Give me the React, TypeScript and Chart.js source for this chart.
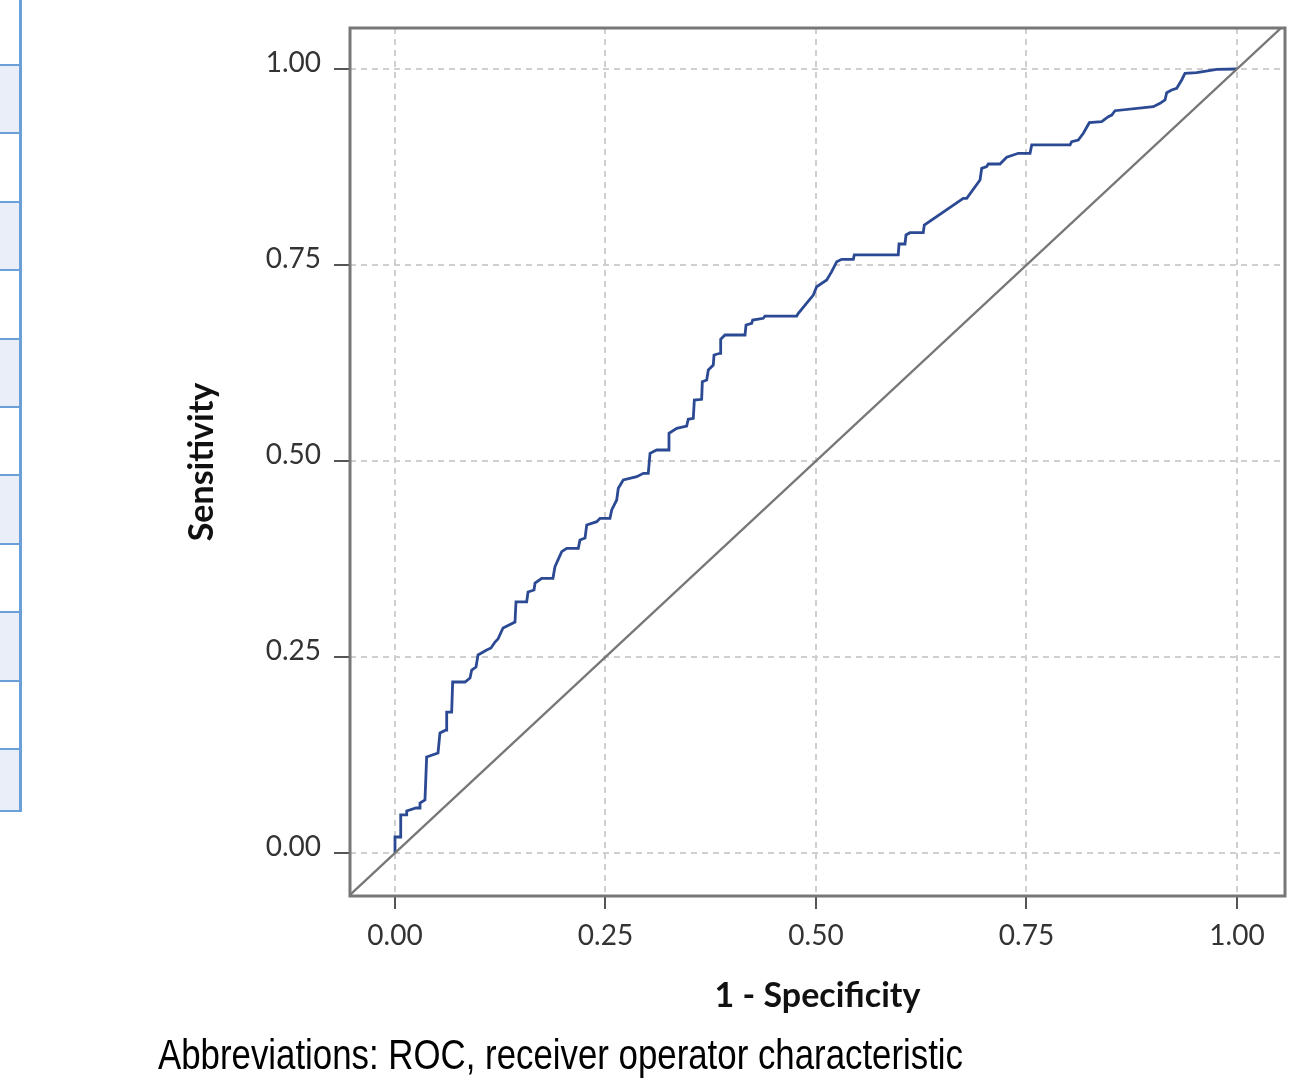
import React, { useEffect, useRef } from "react";
import { Chart, registerables } from "chart.js";

Chart.register(...registerables);

// ROC curve: 1 - specificity (x) and sensitivity (y)
const fprValues = [0, 0, 0.0068, 0.0068, 0.0139, 0.0139, 0.0249, 0.0297, 0.0297, 0.0356, 0.0376, 0.0511, 0.0534, 0.0606, 0.0614, 0.0673, 0.0685, 0.0831, 0.0891, 0.0911, 0.0962, 0.0986, 0.1089, 0.114, 0.1188, 0.1223, 0.1283, 0.1425, 0.1437, 0.1564, 0.158, 0.1651, 0.1663, 0.1742, 0.1876, 0.19, 0.198, 0.2039, 0.2177, 0.2197, 0.2257, 0.2277, 0.2396, 0.2435, 0.2553, 0.2574, 0.2633, 0.2652, 0.2711, 0.2871, 0.2949, 0.3008, 0.3029, 0.3108, 0.3246, 0.3254, 0.3346, 0.3464, 0.3483, 0.3543, 0.3555, 0.3642, 0.365, 0.3702, 0.3721, 0.378, 0.3789, 0.386, 0.3868, 0.3919, 0.4157, 0.4169, 0.4236, 0.4248, 0.4374, 0.4394, 0.4771, 0.479, 0.4968, 0.5008, 0.5127, 0.5186, 0.5246, 0.5305, 0.5443, 0.5455, 0.5977, 0.5986, 0.6057, 0.6069, 0.6116, 0.6274, 0.6286, 0.6749, 0.679, 0.6948, 0.6968, 0.7027, 0.7046, 0.7185, 0.7265, 0.7403, 0.7542, 0.7562, 0.8017, 0.8037, 0.8115, 0.8175, 0.8246, 0.8393, 0.8472, 0.8512, 0.8551, 0.9006, 0.9086, 0.9145, 0.9165, 0.9224, 0.9284, 0.9343, 0.9382, 0.9521, 0.9759, 1];
const tprValues = [0, 0.0204, 0.0204, 0.0485, 0.0485, 0.0536, 0.0574, 0.0574, 0.0638, 0.0676, 0.1224, 0.1276, 0.1531, 0.1569, 0.1798, 0.1798, 0.2181, 0.2181, 0.2232, 0.2334, 0.2372, 0.2526, 0.2589, 0.2615, 0.2691, 0.273, 0.287, 0.2946, 0.3202, 0.3202, 0.3329, 0.3355, 0.3444, 0.3504, 0.3504, 0.3652, 0.3843, 0.3886, 0.3886, 0.3992, 0.4018, 0.4184, 0.4226, 0.4269, 0.4269, 0.4375, 0.4503, 0.4652, 0.4758, 0.48, 0.4843, 0.4843, 0.5098, 0.514, 0.514, 0.5353, 0.5417, 0.5446, 0.5532, 0.5544, 0.5778, 0.5787, 0.6011, 0.6033, 0.6161, 0.6224, 0.6352, 0.6374, 0.6552, 0.6607, 0.6607, 0.6735, 0.6756, 0.6798, 0.682, 0.6849, 0.6849, 0.6884, 0.7117, 0.7223, 0.7309, 0.7415, 0.7542, 0.7573, 0.7573, 0.7628, 0.7628, 0.7768, 0.7768, 0.7883, 0.7912, 0.7912, 0.801, 0.8351, 0.8351, 0.8584, 0.8733, 0.8754, 0.8788, 0.8788, 0.8874, 0.8925, 0.8925, 0.9031, 0.9031, 0.9073, 0.9094, 0.918, 0.9315, 0.9328, 0.9392, 0.9413, 0.9468, 0.9519, 0.9562, 0.9605, 0.9698, 0.9732, 0.9754, 0.986, 0.9945, 0.9953, 0.9996, 1];

// Reference (chance) line y = x
const chanceLine = [-0.1, 1.1];

const tickValues = [0, 0.25, 0.5, 0.75, 1];
const tickLabels = ["0.00", "0.25", "0.50", "0.75", "1.00"];

const xAxisRange = [-0.05344, 1.05701];
const yAxisRange = [-0.05485, 1.0523];

const xTitle = "1 - Specificity";
const yTitle = "Sensitivity";
const caption = "Abbreviations: ROC, receiver operator characteristic";

const TABLE_ROWS = 11;

const framePlugin = {
  id: "frame",
  afterDraw(chart: any) {
    const { ctx, chartArea } = chart;
    ctx.save();
    ctx.strokeStyle = "#777777";
    ctx.lineWidth = 3;
    ctx.setLineDash([]);
    ctx.strokeRect(chartArea.left, chartArea.top, chartArea.right - chartArea.left, chartArea.bottom - chartArea.top);
    ctx.restore();
  },
};

function setTicks(scale: any) {
  scale.ticks = tickValues.map((v) => ({ value: v }));
}

function labelFor(value: number) {
  const i = tickValues.indexOf(value);
  return i >= 0 ? tickLabels[i] : "";
}

export default function App() {
  const canvasRef = useRef<HTMLCanvasElement | null>(null);

  useEffect(() => {
    const canvas = canvasRef.current;
    if (!canvas) return;
    const rocPoints = fprValues.map((x, i) => ({ x, y: tprValues[i] }));
    const diagPoints = chanceLine.map((v) => ({ x: v, y: v }));

    const gridCommon = {
      color: "#cfcfcf",
      lineWidth: 2,
      drawTicks: true,
      tickColor: "#555555",
      tickWidth: 2,
      tickBorderDash: [],
    };

    const chart = new Chart(canvas, {
      type: "line",
      data: {
        datasets: [
          {
            label: "Chance",
            data: diagPoints,
            borderColor: "#777777",
            borderWidth: 2.3,
            pointRadius: 0,
            tension: 0,
            fill: false,
          },
          {
            label: "ROC",
            data: rocPoints,
            borderColor: "#2b4a93",
            borderWidth: 2.8,
            pointRadius: 0,
            tension: 0,
            fill: false,
          },
        ],
      },
      options: {
        responsive: false,
        maintainAspectRatio: false,
        animation: false,
        layout: { padding: { left: 180, top: 28, right: 11, bottom: 60 } },
        plugins: {
          legend: { display: false },
          tooltip: { enabled: false },
          title: { display: false },
        },
        scales: {
          x: {
            type: "linear",
            min: xAxisRange[0],
            max: xAxisRange[1],
            afterBuildTicks: setTicks,
            afterFit: (scale: any) => {
              scale.height = 126;
            },
            grid: { ...gridCommon, tickLength: 13 },
            border: { display: false, dash: [6, 5] },
            ticks: {
              autoSkip: false,
              maxRotation: 0,
              padding: 10,
              color: "#333333",
              font: { family: "Lato", size: 28 },
              callback: (v: any) => labelFor(Number(v)),
            },
            title: {
              display: true,
              text: xTitle,
              color: "#111111",
              font: { family: "Lato", size: 34, weight: "bold" },
              padding: { top: 0, bottom: 6 },
            },
          },
          y: {
            type: "linear",
            min: yAxisRange[0],
            max: yAxisRange[1],
            afterBuildTicks: setTicks,
            afterFit: (scale: any) => {
              scale.width = 170;
            },
            grid: { ...gridCommon, tickLength: 16 },
            border: { display: false, dash: [6, 5] },
            ticks: {
              autoSkip: false,
              padding: 13,
              labelOffset: -6,
              color: "#333333",
              font: { family: "Lato", size: 28, lineHeight: 1.0 },
              callback: (v: any) => labelFor(Number(v)),
            },
            title: {
              display: true,
              text: yTitle,
              color: "#111111",
              font: { family: "Lato", size: 34, weight: "bold" },
              padding: { top: 2, bottom: 0 },
            },
          },
        },
      },
      plugins: [framePlugin],
    } as any);

    return () => chart.destroy();
  }, []);

  const pitch = 68.4;
  const rows = [];
  for (let i = 0; i < TABLE_ROWS; i++) {
    const top = 65 + i * pitch;
    const bottom = i === TABLE_ROWS - 1 ? 811 : top + pitch;
    if (i % 2 === 0) {
      rows.push(
        <div key={"f" + i} style={{ position: "absolute", left: 0, top, width: 20, height: bottom - top, background: "#e9eef8" }} />
      );
    }
    rows.push(
      <div key={"l" + i} style={{ position: "absolute", left: 0, top: top - 1, width: 21, height: 2, background: "#6a9fd8" }} />
    );
  }
  rows.push(<div key="lb" style={{ position: "absolute", left: 0, top: 810, width: 22, height: 2, background: "#6a9fd8" }} />);

  return (
    <div style={{ position: "fixed", left: 0, top: 0, width: 1296, height: 1082, background: "#ffffff", overflow: "hidden" }}>
      <canvas ref={canvasRef} width={1296} height={1082} style={{ position: "absolute", left: 0, top: 0, width: 1296, height: 1082 }} />
      {rows}
      <div style={{ position: "absolute", left: 19, top: 0, width: 3, height: 812, background: "#6a9fd8" }} />
      <div
        style={{
          position: "absolute",
          left: 158,
          top: 1034,
          fontFamily: "'Liberation Sans', Arial, sans-serif",
          fontSize: 42,
          lineHeight: "42px",
          color: "#000000",
          whiteSpace: "nowrap",
          transform: "scaleX(0.829)",
          transformOrigin: "left top",
        }}
      >
        {caption}
      </div>
    </div>
  );
}
